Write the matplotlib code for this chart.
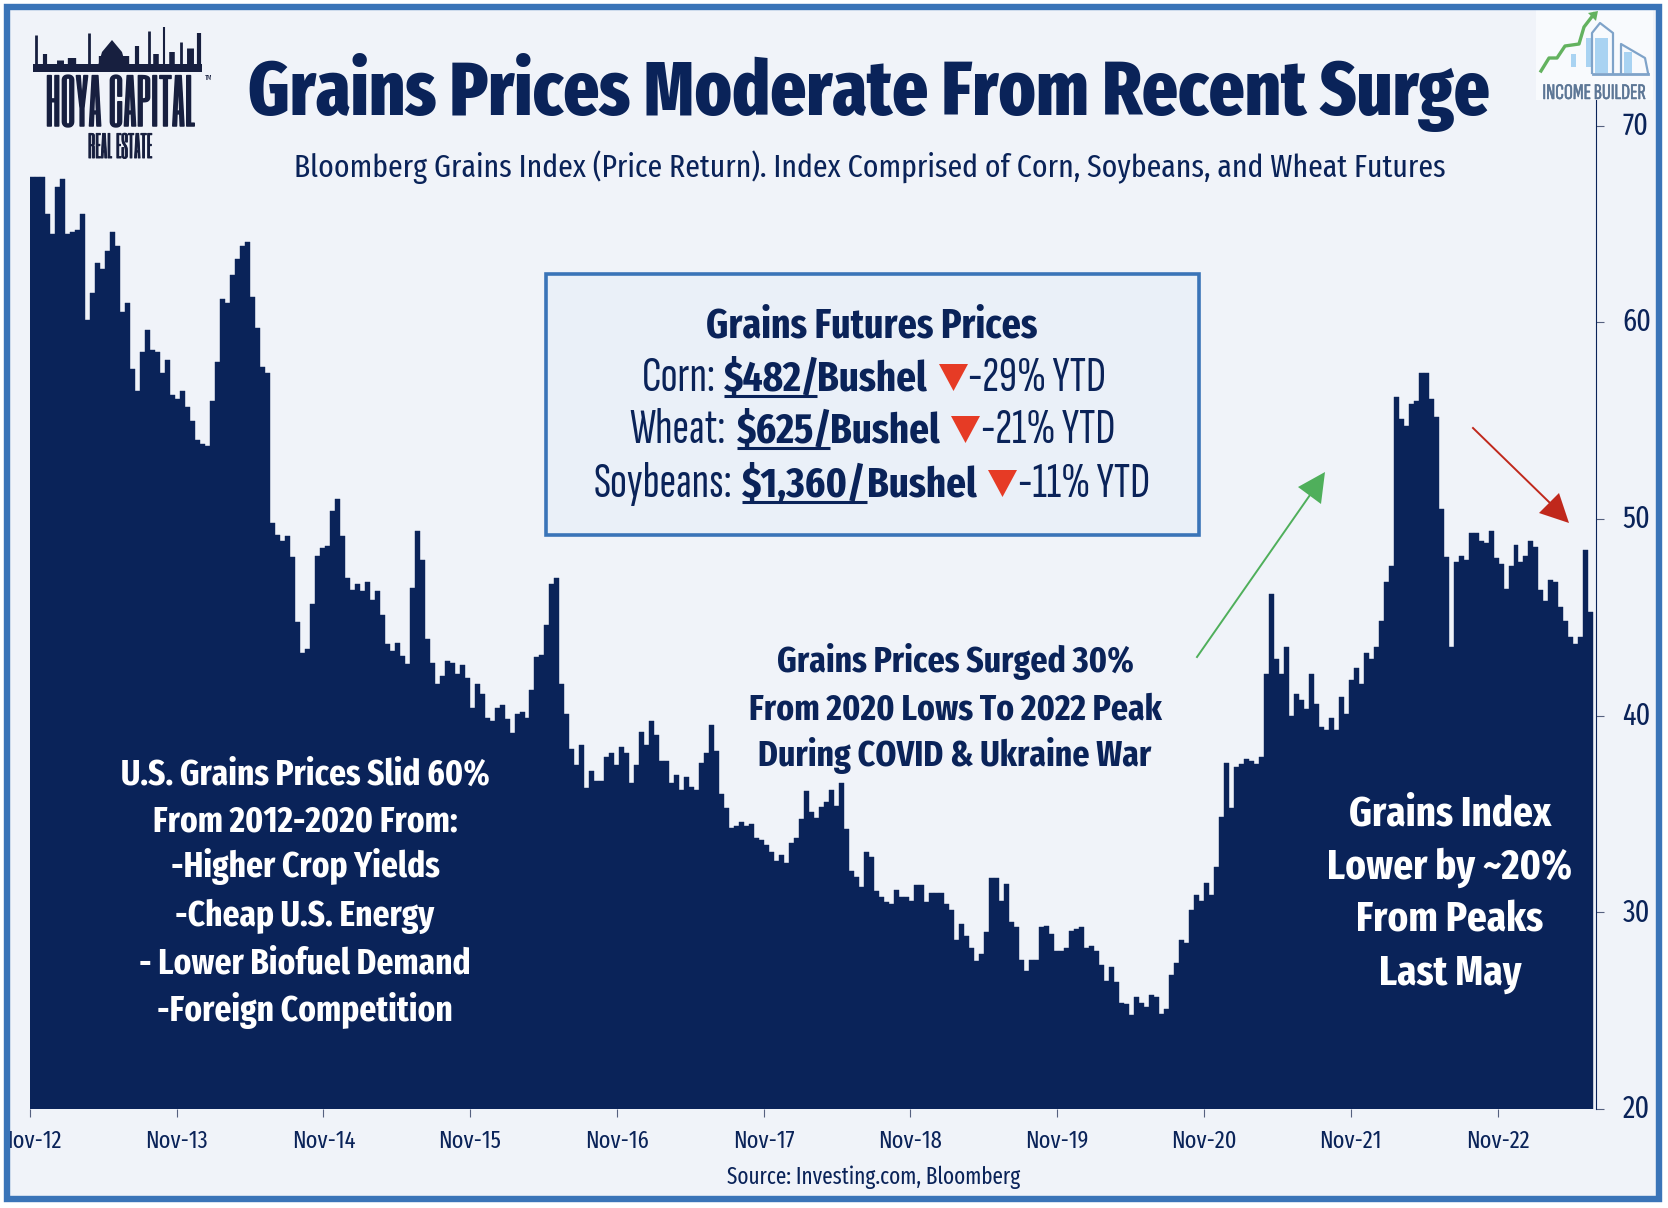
import numpy as np
import pandas as pd
from matplotlib import patheffects as pe
from matplotlib import pyplot as plt
from matplotlib.patches import Polygon, Rectangle
from matplotlib.transforms import ScaledTranslation

# index level, one value every 12.4 days from Nov-12
index_values = [
    67.4, 67.4, 67.4, 65.5, 64.5, 66.9, 67.3, 64.5, 64.6, 64.7, 65.5, 60.1,
    61.5, 63.0, 62.7, 63.6, 64.6, 63.9, 60.5, 61.0, 57.6, 56.5, 58.5, 59.6,
    58.6, 58.5, 57.4, 58.1, 56.3, 56.1, 56.5, 55.7, 55.0, 54.0, 53.8, 53.7,
    56.0, 58.0, 61.2, 61.0, 62.4, 63.2, 63.9, 64.1, 61.3, 59.7, 57.7, 57.4,
    49.8, 49.2, 48.9, 49.15, 48.05, 44.75, 43.2, 43.4, 45.7, 48.1, 48.5, 48.6,
    50.4, 51.0, 49.15, 47.0, 46.4, 46.7, 46.35, 46.8, 45.9, 46.35, 45.1, 43.65,
    43.3, 43.7, 43.05, 42.6, 46.5, 49.4, 47.9, 43.9, 42.7, 41.6, 42.0, 42.8,
    42.7, 42.1, 42.55, 41.9, 40.4, 41.6, 41.1, 39.9, 39.75, 40.4, 40.55, 39.85,
    39.1, 40.1, 40.2, 39.9, 41.3, 43.0, 43.1, 44.6, 46.7, 47.0, 41.6, 40.1,
    38.3, 37.5, 38.5, 36.3, 37.2, 36.7, 36.7, 37.9, 38.1, 37.5, 38.4, 38.1,
    36.6, 37.5, 39.15, 38.5, 39.75, 39.0, 37.7, 37.7, 36.6, 37.0, 36.2, 36.9,
    36.35, 36.2, 37.6, 38.1, 39.5, 38.2, 36.0, 35.3, 34.3, 34.4, 34.6, 34.4,
    34.5, 33.8, 33.7, 33.4, 33.05, 32.6, 32.9, 32.5, 33.5, 33.8, 34.75, 36.15,
    35.1, 34.8, 35.35, 35.6, 36.2, 35.4, 36.6, 34.25, 32.1, 31.8, 31.3, 33.05,
    32.8, 31.1, 30.8, 30.5, 30.4, 31.15, 30.8, 30.8, 30.6, 31.4, 31.4, 30.5,
    31.0, 31.0, 31.0, 30.4, 30.1, 28.6, 29.4, 28.8, 28.2, 27.5, 27.9, 29.0,
    31.75, 31.75,
    30.6, 31.45, 29.5, 29.25, 27.6, 27.0, 27.6, 27.6, 29.25, 29.3, 28.9, 28.05,
    28.05, 28.2, 29.05, 29.15, 29.25, 28.2, 28.3, 28.05, 27.3, 26.5, 27.2, 26.45,
    25.4, 25.35, 24.8, 25.7, 25.4, 25.2, 25.8, 25.7, 24.85, 25.1, 26.8, 27.4,
    28.6, 28.45, 30.1, 30.9, 30.6, 31.5, 30.9, 32.3, 34.85, 37.6, 35.3, 37.4,
    37.55, 37.8, 37.7, 37.55, 37.9, 42.1, 46.2, 42.9, 42.1, 43.5, 40.0, 41.1,
    40.8, 40.35, 42.1, 40.6, 39.4, 39.25, 39.9, 39.25, 40.95, 40.1, 41.8, 42.4,
    41.6, 43.2, 42.9, 43.5, 44.8, 46.8, 47.6, 56.2, 55.1, 54.7, 55.85, 56.0,
    57.4, 57.4, 56.1, 55.2, 50.5, 48.05, 43.5, 47.8, 48.1, 47.9, 49.3, 49.3,
    48.9, 48.8, 49.4, 48.0, 47.7, 46.45, 47.6, 48.65, 47.8, 48.1, 48.9, 48.55,
    46.4, 45.85, 46.9, 46.8, 45.5, 44.8, 44.0, 43.65, 44.0, 48.4, 45.25,
]
step_days = 12.43
tick_years = list(range(2012, 2023))
y_ticks = [20, 30, 40, 50, 60, 70]

left_notes = [
    "U.S. Grains Prices Slid 60%",
    "From 2012-2020 From:",
    "-Higher Crop Yields",
    "-Cheap U.S. Energy",
    "- Lower Biofuel Demand",
    "-Foreign Competition",
]
middle_notes = [
    "Grains Prices Surged 30%",
    "From 2020 Lows To 2022 Peak",
    "During COVID & Ukraine War",
]
right_notes = ["Grains Index", "Lower by ~20%", "From Peaks", "Last May"]

NAVY = "#0A2359"
BG = "#F0F3F9"
BLUE = "#3A74B8"
W, H = 1668, 1208

BASE_FONT = ["Fira Sans Extra Condensed", "Open Sans", "DejaVu Sans"]
SLIM_FONT = ["Sofia Sans Extra Condensed"] + BASE_FONT
LOGO_FONT = ["Six Caps"] + SLIM_FONT
plt.rcParams["font.family"] = BASE_FONT

fig = plt.figure(figsize=(W / 100, H / 100), dpi=100, facecolor=BG)
ax = fig.add_axes([30 / W, 1 - 1109 / H, (1596 - 30) / W, (1109 - 100) / H])
ax.set_facecolor("none")

start = pd.Timestamp("2012-11-01")
dates = start + pd.to_timedelta(np.arange(len(index_values)) * step_days, unit="D")
ax.bar(dates, index_values, width=step_days, align="edge", color=NAVY, edgecolor=NAVY, linewidth=0.3)

ax.set_xlim(start, start + pd.Timedelta(days=3897))
ax.set_ylim(20, 71.3)
ax.set_xticks([pd.Timestamp(f"{y}-11-01") for y in tick_years])
ax.set_xticklabels([f"Nov-{y % 100}" for y in tick_years], fontsize=17.5, color=NAVY)
ax.set_yticks(y_ticks)
ax.yaxis.tick_right()
ax.tick_params(axis="x", length=6, width=0.8, color="#55607f", pad=9)
ax.tick_params(axis="y", length=6, width=0.8, color="#55607f", pad=13, labelsize=22, labelcolor=NAVY)
nudge = ScaledTranslation(0, 2 / 72, fig.dpi_scale_trans)
for tick_label in ax.get_yticklabels():
    tick_label.set_transform(tick_label.get_transform() + nudge)
for side in ["top", "left", "bottom"]:
    ax.spines[side].set_visible(False)
ax.spines["right"].set_color(NAVY)
ax.spines["right"].set_linewidth(0.8)

# overlay in image pixels for frame, notes and logos
ov = fig.add_axes([0, 0, 1, 1], zorder=5)
ov.set_xlim(0, W)
ov.set_ylim(H, 0)
ov.axis("off")


def label(x, y, s, size, color=NAVY, weight="normal", ha="center", family=None, stroke=0):
    t = ov.text(x, y, s, fontsize=size, color=color, fontweight=weight, ha=ha, va="baseline", family=family or BASE_FONT)
    if stroke:
        t.set_path_effects([pe.withStroke(linewidth=stroke, foreground=color)])


label(869, 115, "Grains Prices Moderate From Recent Surge", 54.7, weight=800)
label(870, 177, "Bloomberg Grains Index (Price Return). Index Comprised of Corn, Soybeans, and Wheat Futures", 23.2)
label(874, 1184, "Source: Investing.com, Bloomberg", 16.6)

# price box
ov.add_patch(Rectangle((546, 274), 653, 261, fc="#EAF0F8", ec=BLUE, lw=2.6))
label(872, 337, "Grains Futures Prices", 29.5, weight=700)
price_rows = [
    ("Corn:", "$482/", "Bushel", "-29% YTD", 391, 716, 724, 817, 939, 968),
    ("Wheat:", "$625/", "Bushel", "-21% YTD", 443, 726, 737, 830, 951, 981),
    ("Soybeans:", "$1,360/", "Bushel", "-11% YTD", 497, 733, 742, 867, 988, 1018),
]
for name, price, unit, ytd, base, name_end, px, ux, tx, yx in price_rows:
    label(name_end, base, name, 36, ha="right", family=SLIM_FONT)
    label(px, base, price, 30.5, weight=700, ha="left")
    ov.plot([px, ux], [base + 5, base + 5], color=NAVY, lw=2.2, solid_capstyle="butt")
    label(ux, base, unit, 30.5, weight=700, ha="left")
    ov.add_patch(Polygon([(tx, base - 27), (tx + 29, base - 27), (tx + 14.5, base)], fc="#E63B25", ec="none"))
    label(yx, base, ytd, 36, ha="left", family=SLIM_FONT)

for base, s in zip([672, 720, 766], middle_notes):
    label(955, base, s, 26.3, weight=700)
for base, s in zip([785, 832, 877, 926, 973, 1021], left_notes):
    label(305, base, s, 26, color="white", weight=700)
for base, s in zip([825, 879, 931, 985], right_notes):
    label(1450, base, s, 30.5, color="white", weight=700)

# arrows
ov.plot([1197, 1310], [657, 495], color="#4FAF5B", lw=1.4)
ov.add_patch(Polygon([(1325, 472), (1298, 487), (1321, 504)], fc="#4FAF5B", ec="none"))
ov.plot([1473, 1550], [428, 503], color="#C0281C", lw=1.4)
ov.add_patch(Polygon([(1569, 523), (1539, 513), (1559, 493)], fc="#C0281C", ec="none"))

# Hoya logo
SKY = "#171F3F"
ov.add_patch(Rectangle((33, 64), 169, 8, fc=SKY, ec="none"))
skyline_x = [36, 45, 60, 72, 89, 103, 125, 137, 149, 156, 164, 172, 181, 190, 199]
skyline_top = [35, 54, 60, 58, 33, 56, 56, 46, 31, 54, 27, 52, 42, 48, 33]
skyline_lw = [2, 3, 5, 6, 2, 6, 6, 3, 2, 4, 1.5, 4, 2, 5, 3]
ov.vlines(skyline_x, skyline_top, 66, color=SKY, lw=skyline_lw)
ov.add_patch(Polygon([(98, 66), (102, 52), (112, 40), (122, 52), (126, 66)], fc=SKY, ec="none"))
label(121, 126, "HOYA CAPITAL", 43, color=SKY, family=LOGO_FONT, stroke=1.1)
label(209, 80, "TM", 5, color=SKY)
label(120, 158, "REAL ESTATE", 21, color=SKY, family=LOGO_FONT, stroke=0.7)

# Income Builder logo
ov.add_patch(Rectangle((1536, 8), 117, 92, fc="#F8FAFD", ec="none"))
for x0, x1, y0, y1 in [(1571, 1576, 54, 67), (1586, 1592, 38, 67), (1595, 1608, 38, 73), (1624, 1632, 52, 73)]:
    ov.add_patch(Rectangle((x0, y0), x1 - x0, y1 - y0, fc="#A9D3F2", ec="none"))
ov.plot([1592, 1592, 1600, 1613, 1613], [73, 33, 23, 33, 73], color="#7FA3C9", lw=1.6)
ov.plot([1621, 1621, 1645, 1648], [73, 44, 58, 73], color="#7FA3C9", lw=1.6)
ov.plot([1593, 1648], [74, 74], color="#7FA3C9", lw=2)
ov.plot([1541, 1549, 1557, 1565, 1579, 1584, 1594], [71, 58, 58, 46, 44, 27, 14], color="#63B25F", lw=2.4)
ov.add_patch(Polygon([(1598, 11), (1588, 13), (1596, 21)], fc="#63B25F", ec="none"))
label(1594, 99, "INCOME BUILDER", 16, color="#5D7796", family=SLIM_FONT, stroke=0.4)

# frame on top of everything, white beyond it
for x, y, w, h in [(0, 0, W, 4), (0, 1202, W, 6), (0, 0, 4, H), (1662, 0, 6, H)]:
    ov.add_patch(Rectangle((x, y), w, h, fc="white", ec="none", zorder=6))
ov.add_patch(Rectangle((7, 7), 1652, 1192, fill=False, ec=BLUE, lw=4.6, zorder=7))

fig.savefig("out.png", dpi=100, facecolor=BG)
